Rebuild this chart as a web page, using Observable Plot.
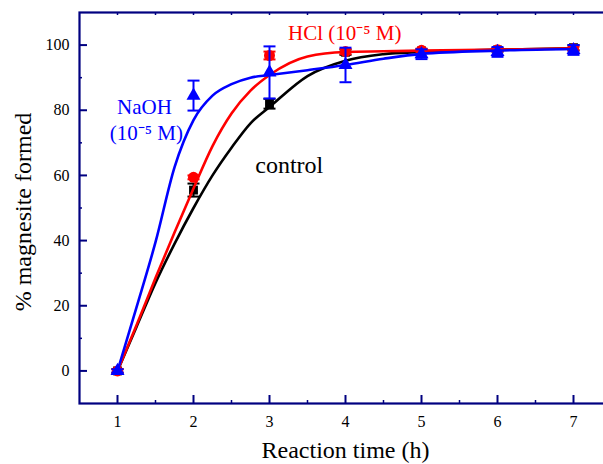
<!DOCTYPE html>
<html>
<head>
<meta charset="utf-8">
<script src="https://cdn.jsdelivr.net/npm/d3@7"></script>
<script src="https://cdn.jsdelivr.net/npm/@observablehq/plot@0.6"></script>
<style>
  html, body { margin: 0; padding: 0; background: #fff; overflow: hidden; }
  #chart { width: 603px; height: 464px; overflow: hidden; }
  #chart svg text { font-family: "Liberation Serif", "Times New Roman", serif; font-weight: normal; }
</style>
</head>
<body>
<div id="chart"></div>
<script>
// Measured conversion to magnesite (%) at each reaction time (h)
const times = [1, 2, 3, 4, 5, 6, 7];
const controlMean = [0, 55.5, 82.0, 97.8, 98.2, 98.5, 99.2];
const controlErr  = [0.6, 2.0, 1.5, 0.8, 0.5, 0.5, 0.8];
const hclMean     = [0, 59.4, 96.8, 98.0, 98.4, 98.6, 98.9];
const hclErr      = [0.5, 0.6, 1.2, 0.8, 0.5, 0.5, 0.6];
const naohMean    = [0, 84.5, 91.6, 93.9, 97.2, 97.9, 98.5];
const naohErr     = [0.5, 4.6, 8.0, 5.3, 1.5, 1.5, 1.5];

// Fitted kinetic curves, sampled along the time axis
const fitTimes   = [1, 1.25, 1.5, 1.75, 2, 2.25, 2.5, 2.75, 3, 3.5, 4, 4.5, 5, 6, 7];
const controlFit = [0, 13.5, 27, 39, 50, 60, 68.5, 76, 81, 90.5, 95.2, 97.2, 97.9, 98.6, 99];
const hclFit     = [0, 14, 28.5, 42.5, 56, 69, 79, 86, 90.8, 96.5, 97.9, 98.1, 98.3, 98.6, 99];
const naohFit    = [0, 19.5, 39.5, 62.5, 77, 84.5, 88, 90, 90.8, 92.3, 93.9, 95.8, 97.3, 98.3, 98.8];

// Axis ticks
const xMajor = [1, 2, 3, 4, 5, 6, 7];
const xMinor = [1.5, 2.5, 3.5, 4.5, 5.5, 6.5];
const yMajor = [0, 20, 40, 60, 80, 100];
const yMinor = [10, 30, 50, 70, 90];

// In-plot annotations
const labelText  = ["NaOH", "(10⁻⁵ M)", "HCl (10⁻⁵ M)", "control"];
const labelX     = [1.355, 1.38, 3.99, 3.26];
const labelY     = [81.0, 73.0, 103.7, 63.2];
const labelColor = ["#0000ff", "#0000ff", "#ff0000", "#000000"];
const labelSize  = [21, 21, 21, 24];

const W = 603, H = 464;
const margin = {top: 12, right: -8, bottom: 61, left: 79};
const innerW = W - margin.left - margin.right;
const innerH = H - margin.top - margin.bottom;
const axisColor = "#000080";
const serif = "Liberation Serif, Times New Roman, serif";

const series = [
  {name: "control", mean: controlMean, err: controlErr, fit: controlFit, color: "#000000", symbol: "square", r: 5},
  {name: "HCl",     mean: hclMean,     err: hclErr,     fit: hclFit,     color: "#ff0000", symbol: "circle", r: 5.5},
  {name: "NaOH",    mean: naohMean,    err: naohErr,    fit: naohFit,    color: "#0000ff", symbol: "triangle", r: 5.2}
];

// Horizontal cap drawn at the ends of each error bar
const capSymbol = {
  draw(context, size) {
    const w = Math.sqrt(size / Math.PI);
    context.moveTo(-w, 0);
    context.lineTo(w, 0);
  }
};

const seriesMarks = series.flatMap(s => {
  const pts = times.map((t, i) => ({t, v: s.mean[i], lo: s.mean[i] - s.err[i], hi: s.mean[i] + s.err[i]}));
  const fit = fitTimes.map((t, i) => ({t, v: s.fit[i]}));
  return [
    Plot.line(fit, {x: "t", y: "v", stroke: s.color, strokeWidth: 2.6, curve: "monotone-x"}),
    Plot.ruleX(pts, {x: "t", y1: "lo", y2: "hi", stroke: s.color, strokeWidth: 2}),
    Plot.dot(pts, {x: "t", y: "lo", symbol: capSymbol, r: 6, stroke: s.color, strokeWidth: 2}),
    Plot.dot(pts, {x: "t", y: "hi", symbol: capSymbol, r: 6, stroke: s.color, strokeWidth: 2}),
    Plot.dot(pts, {x: "t", y: "v", symbol: s.symbol, r: s.r, fill: s.color, stroke: null})
  ];
});

const labels = labelText.map((text, i) => ({text, x: labelX[i], y: labelY[i], color: labelColor[i], size: labelSize[i]}));

const chart = Plot.plot({
  width: W,
  height: H,
  marginTop: margin.top,
  marginRight: margin.right,
  marginBottom: margin.bottom,
  marginLeft: margin.left,
  style: {fontFamily: serif, background: "#fff", color: "#000"},
  x: {domain: [0.5, 7.5]},
  y: {domain: [-10, 110]},
  marks: [
    // inward ticks on all four sides
    Plot.ruleX(xMajor, {x: d => d, insetTop: innerH - 8, stroke: axisColor, strokeWidth: 2}),
    Plot.ruleX(xMinor, {x: d => d, insetTop: innerH - 3, stroke: axisColor, strokeWidth: 1.5}),
    Plot.ruleX([...xMajor, ...xMinor], {x: d => d, insetBottom: innerH - 3, stroke: axisColor, strokeWidth: 1.5}),
    Plot.ruleY(yMajor, {y: d => d, insetRight: innerW - 8, stroke: axisColor, strokeWidth: 2}),
    Plot.ruleY(yMinor, {y: d => d, insetRight: innerW - 3, stroke: axisColor, strokeWidth: 1.5}),
    Plot.ruleY(yMajor, {y: d => d, insetLeft: innerW - 8, stroke: axisColor, strokeWidth: 2}),
    Plot.frame({stroke: axisColor, strokeWidth: 2.2}),
    Plot.axisX(xMajor, {tickSize: 0, tickPadding: 12, fontSize: 16, fontFamily: serif, label: null, fill: "#000"}),
    Plot.axisY(yMajor, {tickSize: 0, tickPadding: 10, fontSize: 16, fontFamily: serif, label: null, fill: "#000"}),
    Plot.text(["Reaction time (h)"], {text: d => d, frameAnchor: "bottom", lineAnchor: "middle", textAnchor: "middle",
      dy: 47, fontSize: 24, fontFamily: serif, fill: "#000"}),
    Plot.text(["% magnesite formed"], {text: d => d, frameAnchor: "left", lineAnchor: "middle", textAnchor: "middle",
      dx: -56, dy: 4, rotate: -90, fontSize: 24, fontFamily: serif, fill: "#000"}),
    ...seriesMarks,
    Plot.text(labels, {x: "x", y: "y", text: "text", fill: d => d.color, fontSize: d => d.size, fontFamily: serif})
  ]
});

document.getElementById("chart").appendChild(chart);
</script>
</body>
</html>
